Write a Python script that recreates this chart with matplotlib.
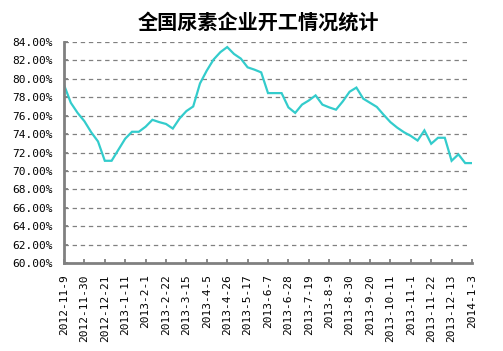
import matplotlib
matplotlib.use("Agg")
import matplotlib.pyplot as plt
import numpy as np

plt.rcParams['font.family'] = ['Noto Sans CJK SC', 'DejaVu Sans']

# weekly operating rate (%), 2012-11-9 .. 2014-1-3
rate = [79.35, 77.4, 76.3, 75.4, 74.2, 73.2, 71.1, 71.1, 72.3, 73.5,
        74.25, 74.25, 74.8, 75.55, 75.3, 75.1, 74.6, 75.7, 76.5, 77.0,
        79.5, 80.9, 82.1, 82.9, 83.45, 82.7, 82.2, 81.25, 81.0, 80.7,
        78.45, 78.45, 78.45, 76.9, 76.3, 77.2, 77.65, 78.2, 77.2, 76.9,
        76.65, 77.55, 78.6, 79.05, 77.85, 77.4, 76.95, 76.1, 75.3, 74.7,
        74.2, 73.8, 73.3, 74.4, 72.95, 73.6, 73.6, 71.1, 71.8, 70.85,
        70.85]

tick_labels = ["2012-11-9", "2012-11-30", "2012-12-21", "2013-1-11", "2013-2-1",
               "2013-2-22", "2013-3-15", "2013-4-5", "2013-4-26", "2013-5-17",
               "2013-6-7", "2013-6-28", "2013-7-19", "2013-8-9", "2013-8-30",
               "2013-9-20", "2013-10-11", "2013-11-1", "2013-11-22", "2013-12-13",
               "2014-1-3"]

title = "全国尿素企业开工情况统计"

W, H = 503, 351
fig = plt.figure(figsize=(W / 100, H / 100), dpi=100)
ax = fig.add_axes([64 / W, (H - 263) / H, 408 / W, 221 / H])

weeks = np.arange(len(rate))
ax.plot(weeks, rate, color="#33CCCC", lw=1.6, solid_joinstyle="miter")

ax.set_xlim(0, 60)
ax.set_ylim(60, 84)
yt = np.arange(60, 85, 2)
ax.set_yticks(yt)
ax.set_yticklabels([f"{v:.2f}%" for v in yt], family="DejaVu Sans Mono", fontsize=8)
ax.set_xticks(np.arange(0, 61, 3))
ax.set_xticklabels(tick_labels, rotation=90, family="DejaVu Sans Mono", fontsize=8,
                   va="top", ha="center")

for v in yt[1:]:
    ax.plot([0, 59.6], [v, v], color="#808080", lw=0.9, ls=(0, (3.5, 3)), zorder=1)

for s in ["top", "right"]:
    ax.spines[s].set_visible(False)
for s in ["left", "bottom"]:
    ax.spines[s].set_color("#808080")
    ax.spines[s].set_linewidth(2)
ax.tick_params(axis="both", direction="in", color="#808080", length=3, width=1.3)
ax.tick_params(axis="y", pad=8)
ax.tick_params(axis="x", pad=8)

fig.text(258 / W, 1 - 22 / H, title, ha="center", va="center",
         fontsize=14.5, fontweight="bold")

fig.savefig("out.png", dpi=100)
